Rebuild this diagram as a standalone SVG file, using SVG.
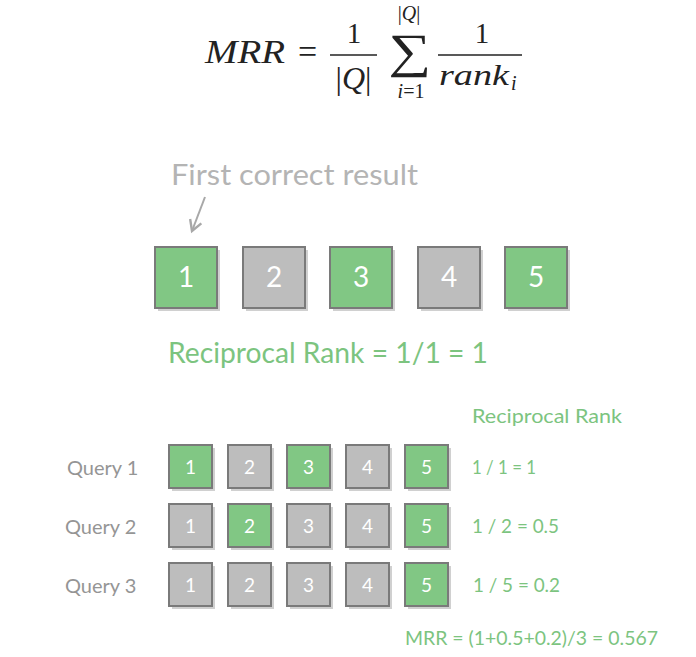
<svg xmlns="http://www.w3.org/2000/svg" width="696" height="657" viewBox="0 0 696 657">
<defs>
<style>
.math{font-family:"Liberation Serif","DejaVu Serif",serif;font-style:italic;fill:#222}
.mr{font-family:"Liberation Serif","DejaVu Serif",serif;font-style:normal;fill:#222}
.t{font-family:Lato,"Noto Sans",sans-serif}
.g{fill:#81c784}
.gr{fill:#bdbdbd}
.bx{stroke:#7a7a7a;stroke-width:2}
.sh{fill:#d0d0d0}
.num{font-family:Lato,"Noto Sans",sans-serif;fill:#ffffff;text-anchor:middle}
.gt{fill:#7cc47f}
.qt{fill:#959595}
</style>
<marker id="ah" viewBox="0 0 10 10" refX="8" refY="5" markerWidth="15" markerHeight="15" markerUnits="userSpaceOnUse" orient="auto">
<path d="M1,1 L8,5 L1,9" fill="none" stroke="#a8a8a8" stroke-width="1.6"/>
</marker>
</defs>
<rect width="696" height="657" fill="#ffffff"/>

<g id="formula">
<text class="math" x="205" y="63" font-size="34" textLength="80" lengthAdjust="spacingAndGlyphs">MRR</text>
<text class="mr" x="298" y="63" font-size="34">=</text>
<text class="mr" x="354" y="43" font-size="29" text-anchor="middle">1</text>
<line x1="330" y1="55" x2="377" y2="55" stroke="#222" stroke-width="1.3"/>
<text class="math" x="353.5" y="89" font-size="32" text-anchor="middle"><tspan class="mr">|</tspan>Q<tspan class="mr">|</tspan></text>
<text class="mr" transform="translate(410,67) scale(1.25,1)" x="0" y="0" font-size="48" text-anchor="middle">∑</text>
<text class="math" x="409" y="20" font-size="20" text-anchor="middle"><tspan class="mr">|</tspan>Q<tspan class="mr">|</tspan></text>
<text class="math" x="411" y="98" font-size="20" text-anchor="middle">i<tspan class="mr">=1</tspan></text>
<text class="mr" x="482" y="43" font-size="29" text-anchor="middle">1</text>
<line x1="438" y1="55" x2="522" y2="55" stroke="#222" stroke-width="1.3"/>
<text class="math" x="439" y="85" font-size="30" textLength="70" lengthAdjust="spacingAndGlyphs">rank</text>
<text class="math" x="511" y="90" font-size="20">i</text>
</g>

<g id="first-label">
<text class="t" x="171" y="185" font-size="28" fill="#b4b4b4" textLength="247" lengthAdjust="spacingAndGlyphs">First correct result</text>
</g>

<g id="connectors">
<line x1="205" y1="197" x2="192" y2="231" stroke="#a8a8a8" stroke-width="2" marker-end="url(#ah)"/>
</g>

<g id="top-1"><rect class="sh" x="158" y="250" width="62" height="61"/><rect class="g bx" x="155" y="247" width="62" height="61"/><text class="num" x="186" y="287" font-size="28">1</text></g>
<g id="top-2"><rect class="sh" x="246" y="250" width="62" height="61"/><rect class="gr bx" x="243" y="247" width="62" height="61"/><text class="num" x="274" y="287" font-size="28">2</text></g>
<g id="top-3"><rect class="sh" x="333" y="250" width="62" height="61"/><rect class="g bx" x="330" y="247" width="62" height="61"/><text class="num" x="361" y="287" font-size="28">3</text></g>
<g id="top-4"><rect class="sh" x="421" y="250" width="62" height="61"/><rect class="gr bx" x="418" y="247" width="62" height="61"/><text class="num" x="449" y="287" font-size="28">4</text></g>
<g id="top-5"><rect class="sh" x="508" y="250" width="62" height="61"/><rect class="g bx" x="505" y="247" width="62" height="61"/><text class="num" x="536" y="287" font-size="28">5</text></g>

<g id="rr-label">
<text class="t gt" x="168" y="363" font-size="28" textLength="320" lengthAdjust="spacingAndGlyphs">Reciprocal Rank = 1/1 = 1</text>
</g>

<g id="rr-header">
<text class="t gt" x="472" y="423" font-size="20" textLength="150" lengthAdjust="spacingAndGlyphs">Reciprocal Rank</text>
</g>

<g id="query1">
<text class="t qt" x="67" y="475" font-size="20">Query 1</text>
<rect class="sh" x="172" y="448" width="43" height="43"/><rect class="g bx" x="169" y="445" width="43" height="43"/><text class="num" x="190.5" y="474" font-size="19">1</text>
<rect class="sh" x="231" y="448" width="43" height="43"/><rect class="gr bx" x="228" y="445" width="43" height="43"/><text class="num" x="249.5" y="474" font-size="19">2</text>
<rect class="sh" x="290" y="448" width="43" height="43"/><rect class="g bx" x="287" y="445" width="43" height="43"/><text class="num" x="308.5" y="474" font-size="19">3</text>
<rect class="sh" x="349" y="448" width="43" height="43"/><rect class="gr bx" x="346" y="445" width="43" height="43"/><text class="num" x="367.5" y="474" font-size="19">4</text>
<rect class="sh" x="408" y="448" width="43" height="43"/><rect class="g bx" x="405" y="445" width="43" height="43"/><text class="num" x="426.5" y="474" font-size="19">5</text>
<text class="t gt" x="472" y="474" font-size="20" textLength="64" lengthAdjust="spacingAndGlyphs">1 / 1 = 1</text>
</g>

<g id="query2">
<text class="t qt" x="65" y="534" font-size="20">Query 2</text>
<rect class="sh" x="172" y="507" width="43" height="43"/><rect class="gr bx" x="169" y="504" width="43" height="43"/><text class="num" x="190.5" y="533" font-size="19">1</text>
<rect class="sh" x="231" y="507" width="43" height="43"/><rect class="g bx" x="228" y="504" width="43" height="43"/><text class="num" x="249.5" y="533" font-size="19">2</text>
<rect class="sh" x="290" y="507" width="43" height="43"/><rect class="gr bx" x="287" y="504" width="43" height="43"/><text class="num" x="308.5" y="533" font-size="19">3</text>
<rect class="sh" x="349" y="507" width="43" height="43"/><rect class="gr bx" x="346" y="504" width="43" height="43"/><text class="num" x="367.5" y="533" font-size="19">4</text>
<rect class="sh" x="408" y="507" width="43" height="43"/><rect class="g bx" x="405" y="504" width="43" height="43"/><text class="num" x="426.5" y="533" font-size="19">5</text>
<text class="t gt" x="472" y="533" font-size="20" textLength="87" lengthAdjust="spacingAndGlyphs">1 / 2 = 0.5</text>
</g>

<g id="query3">
<text class="t qt" x="65" y="593" font-size="20">Query 3</text>
<rect class="sh" x="172" y="566" width="43" height="43"/><rect class="gr bx" x="169" y="563" width="43" height="43"/><text class="num" x="190.5" y="592" font-size="19">1</text>
<rect class="sh" x="231" y="566" width="43" height="43"/><rect class="gr bx" x="228" y="563" width="43" height="43"/><text class="num" x="249.5" y="592" font-size="19">2</text>
<rect class="sh" x="290" y="566" width="43" height="43"/><rect class="gr bx" x="287" y="563" width="43" height="43"/><text class="num" x="308.5" y="592" font-size="19">3</text>
<rect class="sh" x="349" y="566" width="43" height="43"/><rect class="gr bx" x="346" y="563" width="43" height="43"/><text class="num" x="367.5" y="592" font-size="19">4</text>
<rect class="sh" x="408" y="566" width="43" height="43"/><rect class="g bx" x="405" y="563" width="43" height="43"/><text class="num" x="426.5" y="592" font-size="19">5</text>
<text class="t gt" x="473" y="592" font-size="20" textLength="87" lengthAdjust="spacingAndGlyphs">1 / 5 = 0.2</text>
</g>

<g id="mrr-result">
<text class="t gt" x="405" y="645" font-size="20" textLength="253" lengthAdjust="spacingAndGlyphs">MRR = (1+0.5+0.2)/3 = 0.567</text>
</g>
</svg>
